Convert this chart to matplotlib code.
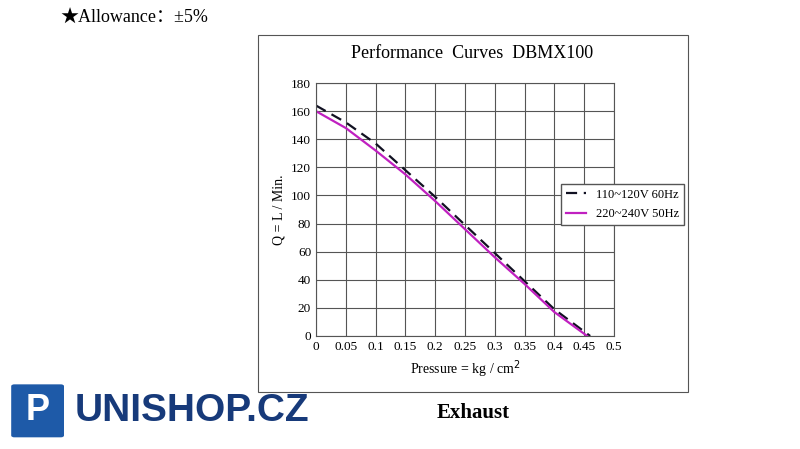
import matplotlib.pyplot as plt
from matplotlib.patches import Rectangle, FancyBboxPatch

pressure_60 = [0, 0.05, 0.1, 0.15, 0.2, 0.25, 0.3, 0.35, 0.4, 0.46]
flow_60 = [164, 152, 137, 118, 99, 79, 59, 39, 19, 0]
pressure_50 = [0, 0.05, 0.1, 0.15, 0.2, 0.25, 0.3, 0.35, 0.4, 0.455]
flow_50 = [160, 148, 132, 115, 96, 76, 56, 37, 17, 0]
x_ticks = [0, 0.05, 0.1, 0.15, 0.2, 0.25, 0.3, 0.35, 0.4, 0.45, 0.5]
x_labels = ["0", "0.05", "0.1", "0.15", "0.2", "0.25", "0.3", "0.35", "0.4", "0.45", "0.5"]

plt.rcParams['font.family'] = ['Liberation Serif', 'DejaVu Serif']
fig = plt.figure(figsize=(8, 4.49), dpi=100)

# outer frame of the chart
fig.patches.append(Rectangle((0.3225, 0.127), 0.5375, 0.795, transform=fig.transFigure,
                             fill=False, edgecolor='#555555', linewidth=0.8))
fig.text(0.59, 0.88, "Performance  Curves  DBMX100", ha='center', va='center', fontsize=13)
fig.text(0.075, 0.962, "★Allowance：±5%", fontsize=13, va='center',
         family=['Liberation Serif', 'Noto Sans CJK SC', 'DejaVu Sans'])

ax = fig.add_axes([0.395, 0.2517, 0.3725, 0.5633])
ax.plot(pressure_60, flow_60, color='#111122', linestyle=(0, (5, 3)), linewidth=1.6, label='110~120V 60Hz')
ax.plot(pressure_50, flow_50, color='#c020c0', linewidth=1.6, label='220~240V 50Hz')
ax.set_xlim(0, 0.5)
ax.set_ylim(0, 180)
ax.set_xticks(x_ticks)
ax.set_xticklabels(x_labels)
ax.set_yticks(range(0, 181, 20))
ax.tick_params(length=0, labelsize=9.5)
ax.grid(True, color='#555555', linewidth=0.8)
for s in ax.spines.values():
    s.set_color('#555555')
ax.set_xlabel("Pressure = kg / cm$^2$", fontsize=10)
ax.set_ylabel("Q = L / Min.", fontsize=10)
ax.legend(loc='center left', bbox_to_anchor=(0.8, 0.52), fontsize=9, frameon=True,
          fancybox=False, edgecolor='#555555', framealpha=1, handlelength=1.6,
          borderpad=0.4, labelspacing=0.6)

fig.text(0.591, 0.08, "Exhaust", ha='center', va='center', fontsize=15, fontweight='bold')

# logo
fig.patches.append(FancyBboxPatch((0.018, 0.03), 0.058, 0.11, boxstyle="round,pad=0.004",
                                  transform=fig.transFigure, facecolor='#1e5aa8', edgecolor='none'))
fig.text(0.047, 0.085, "P", ha='center', va='center', fontsize=26, color='white',
         fontweight='bold', family='Liberation Sans')
fig.text(0.093, 0.085, "UNISHOP.CZ", ha='left', va='center', fontsize=28, color='#173a7a',
         fontweight='bold', family='Liberation Sans')

fig.savefig("out.png", dpi=100)
